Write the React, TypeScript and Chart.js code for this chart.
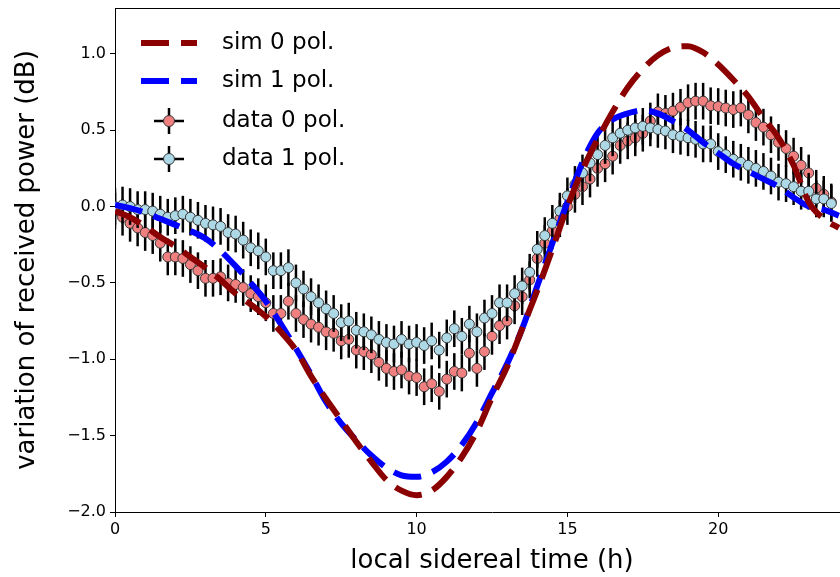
import React, { useEffect, useRef } from "react";
import { Chart, registerables } from "chart.js";
Chart.register(...registerables);

// ---- data ----
const simHours = [0, 0.5, 1, 1.5, 2, 2.5, 3, 3.5, 4, 4.5, 5, 5.5, 6, 6.5, 7, 7.5, 8, 8.5, 9, 9.5, 10, 10.5, 11, 11.5, 12, 12.5, 13, 13.5, 14, 14.5, 15, 15.5, 16, 16.5, 17, 17.5, 18, 18.5, 19, 19.5, 20, 20.5, 21, 21.5, 22, 22.5, 23, 23.5, 24];
const sim0 = [-0.03, -0.07, -0.13, -0.2, -0.26, -0.33, -0.4, -0.48, -0.57, -0.64, -0.72, -0.82, -0.94, -1.11, -1.26, -1.4, -1.54, -1.67, -1.79, -1.86, -1.89, -1.86, -1.77, -1.64, -1.47, -1.25, -1.05, -0.8, -0.55, -0.28, 0.0, 0.24, 0.44, 0.62, 0.78, 0.9, 0.99, 1.04, 1.05, 1.01, 0.93, 0.83, 0.72, 0.58, 0.45, 0.27, 0.03, -0.08, -0.14];
const sim1 = [0.01, -0.01, -0.04, -0.08, -0.12, -0.16, -0.21, -0.29, -0.39, -0.5, -0.62, -0.77, -0.93, -1.1, -1.28, -1.42, -1.53, -1.63, -1.71, -1.76, -1.77, -1.74, -1.67, -1.56, -1.41, -1.22, -1.03, -0.8, -0.52, -0.24, 0.03, 0.29, 0.48, 0.57, 0.61, 0.63, 0.61, 0.56, 0.5, 0.42, 0.35, 0.28, 0.23, 0.18, 0.13, 0.06, 0.0, -0.02, -0.06];

const dataHours = [0, 0.25, 0.5, 0.75, 1, 1.25, 1.5, 1.75, 2, 2.25, 2.5, 2.75, 3, 3.25, 3.5, 3.75, 4, 4.25, 4.5, 4.75, 5, 5.25, 5.5, 5.75, 6, 6.25, 6.5, 6.75, 7, 7.25, 7.5, 7.75, 8, 8.25, 8.5, 8.75, 9, 9.25, 9.5, 9.75, 10, 10.25, 10.5, 10.75, 11, 11.25, 11.5, 11.75, 12, 12.25, 12.5, 12.75, 13, 13.25, 13.5, 13.75, 14, 14.25, 14.5, 14.75, 15, 15.25, 15.5, 15.75, 16, 16.25, 16.5, 16.75, 17, 17.25, 17.5, 17.75, 18, 18.25, 18.5, 18.75, 19, 19.25, 19.5, 19.75, 20, 20.25, 20.5, 20.75, 21, 21.25, 21.5, 21.75, 22, 22.25, 22.5, 22.75, 23, 23.25, 23.5, 23.75];
const data0 = [-0.03, -0.07, -0.11, -0.14, -0.17, -0.19, -0.24, -0.33, -0.33, -0.34, -0.38, -0.42, -0.47, -0.47, -0.46, -0.5, -0.51, -0.53, -0.57, -0.59, -0.63, -0.7, -0.7, -0.62, -0.7, -0.74, -0.77, -0.79, -0.82, -0.83, -0.88, -0.87, -0.94, -0.95, -0.97, -1.02, -1.06, -1.08, -1.07, -1.11, -1.12, -1.18, -1.16, -1.21, -1.13, -1.08, -1.09, -0.96, -1.06, -0.95, -0.85, -0.78, -0.75, -0.65, -0.59, -0.48, -0.34, -0.24, -0.16, -0.08, 0.0, 0.08, 0.13, 0.18, 0.25, 0.28, 0.33, 0.4, 0.43, 0.45, 0.48, 0.56, 0.62, 0.61, 0.625, 0.65, 0.68, 0.69, 0.69, 0.66, 0.655, 0.645, 0.635, 0.645, 0.6, 0.55, 0.52, 0.47, 0.42, 0.38, 0.33, 0.27, 0.22, 0.12, 0.08, 0.03];
const data1 = [0.0, 0.01, 0.0, -0.02, -0.02, -0.03, -0.05, -0.07, -0.06, -0.05, -0.07, -0.09, -0.11, -0.12, -0.13, -0.17, -0.18, -0.22, -0.27, -0.29, -0.33, -0.42, -0.42, -0.4, -0.5, -0.54, -0.59, -0.63, -0.67, -0.7, -0.76, -0.75, -0.81, -0.82, -0.84, -0.87, -0.89, -0.9, -0.87, -0.9, -0.89, -0.91, -0.88, -0.94, -0.86, -0.8, -0.85, -0.77, -0.82, -0.73, -0.7, -0.63, -0.63, -0.57, -0.52, -0.43, -0.28, -0.19, -0.11, -0.03, 0.07, 0.145, 0.22, 0.285, 0.34, 0.4, 0.45, 0.48, 0.5, 0.515, 0.525, 0.515, 0.505, 0.495, 0.47, 0.46, 0.45, 0.44, 0.41, 0.41, 0.36, 0.34, 0.31, 0.29, 0.27, 0.25, 0.23, 0.2, 0.16, 0.15, 0.13, 0.1, 0.1, 0.05, 0.05, 0.02];
const err0 = 0.12;
const err1 = 0.12;

const xTicks = [0, 5, 10, 15, 20];
const yTicks = [-2, -1.5, -1, -0.5, 0, 0.5, 1];
const seriesLabels = ["sim 0 pol.", "sim 1 pol.", "data 0 pol.", "data 1 pol."];
const xTitle = "local sidereal time (h)";
const yTitle = "variation of received power (dB)";

const FONT = "'DejaVu Sans', sans-serif";
const DASH = [28, 12];

const errorBarPlugin = {
  id: "errbars",
  beforeDatasetDraw(chart: any, args: any) {
    const ds = chart.data.datasets[args.index];
    if (ds.yErr == null) return;
    const { ctx, chartArea } = chart;
    const ys = chart.scales.y;
    ctx.save();
    ctx.beginPath();
    ctx.rect(chartArea.left, chartArea.top, chartArea.right - chartArea.left, chartArea.bottom - chartArea.top);
    ctx.clip();
    ctx.strokeStyle = "#000";
    ctx.lineWidth = 2.5;
    args.meta.data.forEach((pt: any, i: number) => {
      const v = ds.data[i].y;
      ctx.beginPath();
      ctx.moveTo(pt.x, ys.getPixelForValue(v + ds.yErr));
      ctx.lineTo(pt.x, ys.getPixelForValue(v - ds.yErr));
      ctx.stroke();
    });
    ctx.restore();
  },
};

const framePlugin = {
  id: "frame",
  afterDatasetsDraw(chart: any) {
    const { ctx, chartArea } = chart;
    ctx.save();
    ctx.strokeStyle = "#000";
    ctx.lineWidth = 1;
    ctx.beginPath();
    ctx.moveTo(chartArea.left, chartArea.top + 0.5);
    ctx.lineTo(chartArea.right, chartArea.top + 0.5);
    ctx.moveTo(chartArea.right - 0.5, chartArea.top);
    ctx.lineTo(chartArea.right - 0.5, chartArea.bottom);
    ctx.stroke();
    ctx.restore();
  },
};

const legendPlugin = {
  id: "mplLegend",
  afterDraw(chart: any) {
    const { ctx } = chart;
    const rows = [43, 81, 121, 159];
    const ds = chart.data.datasets;
    ctx.save();
    for (let i = 0; i < 4; i++) {
      const d = ds[i];
      const y = rows[i];
      if (d.yErr == null) {
        ctx.strokeStyle = d.borderColor;
        ctx.lineWidth = 6;
        ctx.setLineDash(DASH);
        ctx.lineCap = "butt";
        ctx.beginPath();
        ctx.moveTo(141, y);
        ctx.lineTo(197, y);
        ctx.stroke();
        ctx.setLineDash([]);
      } else {
        ctx.strokeStyle = "#000";
        ctx.lineWidth = 2.5;
        ctx.beginPath();
        ctx.moveTo(154, y);
        ctx.lineTo(184, y);
        ctx.moveTo(169, y - 13);
        ctx.lineTo(169, y + 13);
        ctx.stroke();
        ctx.fillStyle = d.pointBackgroundColor;
        ctx.strokeStyle = "#333";
        ctx.lineWidth = 1;
        ctx.beginPath();
        ctx.arc(169, y, 5.5, 0, Math.PI * 2);
        ctx.fill();
        ctx.stroke();
      }
      ctx.fillStyle = "#000";
      ctx.font = `23px ${FONT}`;
      ctx.textBaseline = "middle";
      ctx.textAlign = "left";
      ctx.fillText(d.label, 222, y);
    }
    ctx.restore();
  },
};

function pairs(xs: number[], ys: number[]) {
  return xs.map((x, i) => ({ x, y: ys[i] }));
}

export default function App() {
  const ref = useRef<HTMLCanvasElement>(null);
  useEffect(() => {
    const canvas = ref.current!;
    const chart = new Chart(canvas, {
      type: "line",
      data: {
        datasets: [
          {
            label: seriesLabels[0],
            data: pairs(simHours, sim0),
            borderColor: "#8B0000",
            borderWidth: 6,
            borderDash: DASH,
            borderCapStyle: "butt",
            pointRadius: 0,
            cubicInterpolationMode: "monotone",
            fill: false,
            order: 0,
          } as any,
          {
            label: seriesLabels[1],
            data: pairs(simHours, sim1),
            borderColor: "#0000FF",
            borderWidth: 6,
            borderDash: DASH,
            borderCapStyle: "butt",
            pointRadius: 0,
            cubicInterpolationMode: "monotone",
            fill: false,
            order: 1,
          },
          {
            label: seriesLabels[2],
            data: pairs(dataHours, data0),
            showLine: false,
            pointRadius: 5,
            pointBackgroundColor: "#F08080",
            pointBorderColor: "#333",
            pointBorderWidth: 1,
            yErr: err0,
            order: 3,
          },
          {
            label: seriesLabels[3],
            data: pairs(dataHours, data1),
            showLine: false,
            pointRadius: 5,
            pointBackgroundColor: "#ADD8E6",
            pointBorderColor: "#333",
            pointBorderWidth: 1,
            yErr: err1,
            order: 2,
          },
        ] as any,
      },
      options: {
        responsive: false,
        animation: false,
        events: [],
        layout: { padding: 0 },
        plugins: { legend: { display: false }, tooltip: { enabled: false } },
        scales: {
          x: {
            type: "linear",
            min: 0,
            max: 25,
            afterBuildTicks: (s: any) => {
              s.ticks = xTicks.map((v) => ({ value: v }));
            },
            afterFit: (s: any) => {
              s.height = 65;
              s.paddingLeft = 0;
              s.paddingRight = 0;
            },
            ticks: {
              font: { family: FONT, size: 16 },
              color: "#000",
              padding: 3,
              maxRotation: 0,
              autoSkip: false,
              callback: (v: any) => String(v),
            },
            grid: { drawOnChartArea: false, drawTicks: true, tickLength: 5, color: "#000" },
            border: { color: "#000", width: 1 },
            title: {
              display: true,
              text: xTitle,
              font: { family: FONT, size: 26 },
              color: "#000",
              padding: { top: 0, bottom: 0 },
            },
          },
          y: {
            type: "linear",
            min: -2,
            max: 1.3,
            afterBuildTicks: (s: any) => {
              s.ticks = yTicks.map((v) => ({ value: v }));
            },
            afterFit: (s: any) => {
              s.width = 115;
              s.paddingTop = 8;
              s.paddingBottom = 0;
            },
            ticks: {
              font: { family: FONT, size: 16 },
              color: "#000",
              padding: 4,
              autoSkip: false,
              callback: (v: any) => (v < 0 ? "\u2212" : "") + Math.abs(v).toFixed(1),
            },
            grid: { drawOnChartArea: false, drawTicks: true, tickLength: 5, color: "#000" },
            border: { color: "#000", width: 1 },
            title: {
              display: true,
              text: yTitle,
              font: { family: FONT, size: 26 },
              color: "#000",
              padding: { top: 12, bottom: 0 },
            },
          },
        },
      } as any,
      plugins: [errorBarPlugin, framePlugin, legendPlugin],
    });
    return () => chart.destroy();
  }, []);

  return (
    <div style={{ position: "absolute", left: 0, top: 0, width: 840, height: 577, overflow: "hidden", background: "#fff" }}>
      <canvas ref={ref} width={875} height={577} style={{ width: 875, height: 577, display: "block" }} />
    </div>
  );
}
